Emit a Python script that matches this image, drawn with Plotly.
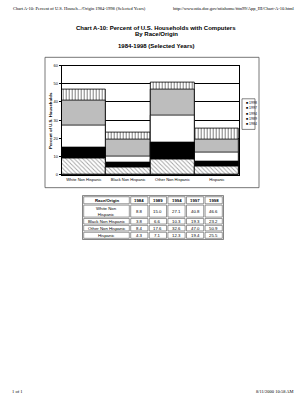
import plotly.graph_objects as go

W, H = 305, 400

categories = ["White Non Hispanic", "Black Non Hispanic", "Other Non Hispanic", "Hispanic"]
years = ["1984", "1989", "1994", "1997", "1998"]
v1984 = [8.8, 3.8, 8.4, 4.3]
v1989 = [15.0, 6.6, 17.6, 7.1]
v1994 = [27.1, 10.3, 32.6, 12.3]
v1997 = [40.8, 19.3, 47.0, 19.4]
v1998 = [46.6, 23.2, 50.9, 25.5]
table_rows = ["White Non<br>Hispanic", "Black Non Hispanic", "Other Non Hispanic", "Hispanic"]
y_ticks = [0, 10, 20, 30, 40, 50, 60]

series = {"1984": v1984, "1989": v1989, "1994": v1994, "1997": v1997, "1998": v1998}
styles = {
    "1998": dict(color="white", pattern=dict(shape="|", fgcolor="black", bgcolor="white", size=3, solidity=0.35)),
    "1997": dict(color="#bdbdbd"),
    "1994": dict(color="white"),
    "1989": dict(color="black"),
    "1984": dict(color="white", pattern=dict(shape="\\", fgcolor="#444", bgcolor="white", size=3, solidity=0.3)),
}

def px(x):
    return x / W

def py(y):
    return 1 - y / H

fig = go.Figure()
for yr in ["1998", "1997", "1994", "1989", "1984"]:
    st = styles[yr]
    marker = dict(color=st["color"], line=dict(color="black", width=0.8))
    if "pattern" in st:
        marker["pattern"] = st["pattern"]
    fig.add_trace(go.Bar(x=categories, y=series[yr], name=yr, marker=marker, showlegend=False))

sans = "Liberation Sans, Arial, sans-serif"
serif = "Liberation Serif, Times New Roman, serif"

shapes = [
    dict(type="rect", xref="paper", yref="paper", x0=px(45), x1=px(259), y0=py(187), y1=py(55),
         line=dict(color="#555", width=0.8), layer="below"),
    dict(type="rect", xref="paper", yref="paper", x0=px(242), x1=px(255), y0=py(128), y1=py(97),
         line=dict(color="#333", width=0.6)),
]
ann = []

# table (drawn as cells)
col_edges = [83, 130, 148.6, 167.2, 185.8, 204.4, 223]
row_edges = [195.5, 204, 217.5, 224.5, 231.5, 239]
shapes.append(dict(type="rect", xref="paper", yref="paper", x0=px(col_edges[0] - 0.5), x1=px(col_edges[-1] + 0.5),
                   y0=py(row_edges[-1] + 0.5), y1=py(row_edges[0] - 0.5), line=dict(color="#333", width=0.6)))
header = ["Race/Origin"] + years
cols = [table_rows] + [["%.1f" % v for v in s] for s in (v1984, v1989, v1994, v1997, v1998)]
for r in range(len(row_edges) - 1):
    for c in range(len(col_edges) - 1):
        x0, x1 = col_edges[c] + 0.7, col_edges[c + 1] - 0.7
        y0, y1 = row_edges[r] + 0.7, row_edges[r + 1] - 0.7
        shapes.append(dict(type="rect", xref="paper", yref="paper", x0=px(x0), x1=px(x1),
                           y0=py(y1), y1=py(y0), line=dict(color="#333", width=0.5)))
        txt = ("<b>%s</b>" % header[c]) if r == 0 else cols[c][r - 1]
        ann.append(dict(x=px((x0 + x1) / 2), y=py((y0 + y1) / 2), text=txt, xanchor="center",
                        font=dict(family=sans, size=4.3, color="black")))

fig.update_layout(
    width=W, height=H, margin=dict(l=0, r=0, t=0, b=0),
    paper_bgcolor="white", plot_bgcolor="white",
    barmode="overlay", bargap=0,
    xaxis=dict(domain=[px(61.7), px(239)], showline=True, linecolor="black", linewidth=0.8,
               mirror=True, ticks="", tickfont=dict(family=sans, size=4, color="black"),
               fixedrange=True),
    yaxis=dict(domain=[py(174), py(63.3)], range=[0, 60], tickvals=y_ticks,
               showline=True, linecolor="black", linewidth=0.8, mirror=True,
               showgrid=True, gridcolor="black", gridwidth=0.8,
               ticks="outside", ticklen=2, tickcolor="black",
               tickfont=dict(family=sans, size=4, color="black")),
    shapes=shapes,
)

ann += [
    dict(x=px(50), y=py(118.5), text="<b>Percent of U.S. Households</b>", textangle=-90,
         xanchor="center", font=dict(family=sans, size=4.3, color="black")),
    dict(x=px(11), y=py(6), text="Chart A-10: Percent of U.S. Househ.../Origin 1984-1998 (Selected Years)",
         xanchor="left", font=dict(family=serif, size=4.5, color="black")),
    dict(x=px(296), y=py(6), text="http://www.ntia.doc.gov/ntiahome/fttn99/App_III/Chart-A-10.html",
         xanchor="right", font=dict(family=serif, size=4.5, color="black")),
    dict(x=px(156), y=py(25), text="<b>Chart A-10: Percent of U.S. Households with Computers</b>",
         xanchor="center", font=dict(family=sans, size=6, color="black")),
    dict(x=px(156), y=py(31.5), text="<b>By Race/Origin</b>",
         xanchor="center", font=dict(family=sans, size=6, color="black")),
    dict(x=px(156), y=py(44), text="<b>1984-1998 (Selected Years)</b>",
         xanchor="center", font=dict(family=sans, size=6, color="black")),
    dict(x=px(10), y=py(393), text="1 of 1", xanchor="left",
         font=dict(family=serif, size=4.5, color="black")),
    dict(x=px(296), y=py(393), text="8/11/2000 10:58 AM", xanchor="right",
         font=dict(family=serif, size=4.5, color="black")),
]
for i, yr in enumerate(["1998", "1997", "1994", "1989", "1984"]):
    ann.append(dict(x=px(243.5), y=py(101 + i * 5.5), text="■ " + yr, xanchor="left",
                    font=dict(family=sans, size=3.5, color="black")))
for a in ann:
    a.update(xref="paper", yref="paper", showarrow=False, yanchor="middle")
fig.update_layout(annotations=ann)

fig.write_html("out.html")
